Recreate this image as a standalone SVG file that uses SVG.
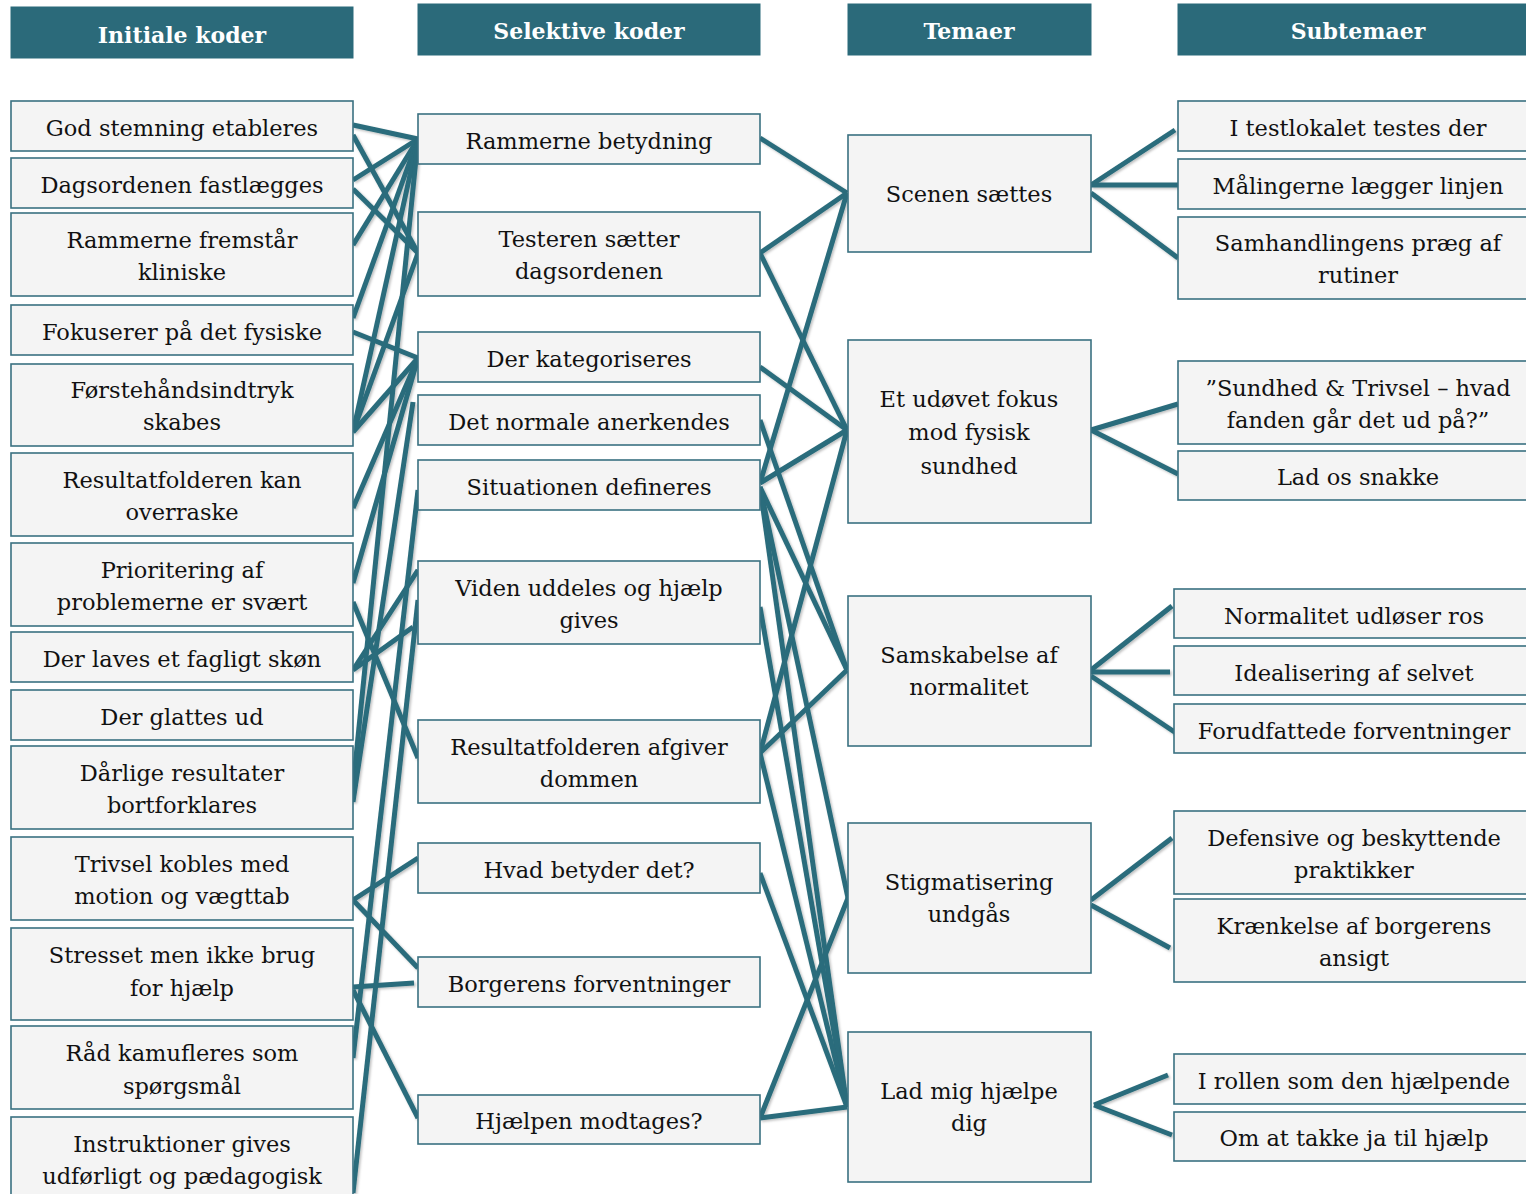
<svg xmlns="http://www.w3.org/2000/svg" width="1526" height="1194" viewBox="0 0 1526 1194">
<defs>
<filter id="sh" x="-5%" y="-5%" width="110%" height="110%">
<feDropShadow dx="1.5" dy="1.5" stdDeviation="1.2" flood-color="#000" flood-opacity="0.25"/>
</filter>
<style>
.hd rect{fill:#2b6a7a;stroke:#2b6a7a;stroke-width:1}
.hd text{fill:#fff;font-family:"DejaVu Serif","Liberation Serif",serif;font-weight:bold;font-size:22px;text-anchor:middle}
.n rect{fill:#f4f4f4;stroke:#3a7181;stroke-width:1.6}
.n text{fill:#111;font-family:"DejaVu Serif","Liberation Serif",serif;font-size:22.5px;text-anchor:middle}
#edges line{stroke:#2b6c7b;stroke-width:5}
</style>
</defs>
<rect width="1526" height="1194" fill="#fff"/>

<g id="h1" class="hd"><rect x="11" y="7" width="342" height="51"/><text x="182" y="43">Initiale koder</text></g>
<g id="h2" class="hd"><rect x="418" y="4" width="342" height="51"/><text x="589" y="39">Selektive koder</text></g>
<g id="h3" class="hd"><rect x="848" y="4" width="243" height="51"/><text x="969" y="39">Temaer</text></g>
<g id="h4" class="hd"><rect x="1178" y="4" width="350" height="51"/><text x="1358" y="39">Subtemaer</text></g>

<g id="edges" filter="url(#sh)">
<line x1="353" y1="125" x2="418" y2="139"/>
<line x1="353" y1="135" x2="418" y2="253"/>
<line x1="353" y1="180" x2="418" y2="139"/>
<line x1="353" y1="189" x2="418" y2="253"/>
<line x1="353" y1="245" x2="418" y2="139"/>
<line x1="353" y1="318" x2="418" y2="139"/>
<line x1="353" y1="332" x2="418" y2="358"/>
<line x1="353" y1="432" x2="418" y2="139"/>
<line x1="353" y1="432" x2="418" y2="253"/>
<line x1="353" y1="432" x2="418" y2="358"/>
<line x1="353" y1="508" x2="418" y2="358"/>
<line x1="353" y1="583" x2="418" y2="358"/>
<line x1="353" y1="602" x2="418" y2="758"/>
<line x1="353" y1="670" x2="418" y2="570"/>
<line x1="353" y1="670" x2="413" y2="627"/>
<line x1="353" y1="787" x2="418" y2="139"/>
<line x1="353" y1="802" x2="413" y2="402"/>
<line x1="353" y1="900" x2="418" y2="858"/>
<line x1="353" y1="900" x2="418" y2="968"/>
<line x1="353" y1="987" x2="414" y2="983"/>
<line x1="353" y1="990" x2="418" y2="1118"/>
<line x1="353" y1="1058" x2="418" y2="490"/>
<line x1="353" y1="1193" x2="418" y2="600"/>

<line x1="760" y1="138" x2="847" y2="193"/>
<line x1="760" y1="253" x2="847" y2="193"/>
<line x1="760" y1="253" x2="847" y2="430"/>
<line x1="760" y1="367" x2="847" y2="430"/>
<line x1="760" y1="483" x2="847" y2="193"/>
<line x1="760" y1="483" x2="847" y2="430"/>
<line x1="760" y1="420" x2="847" y2="670"/>
<line x1="760" y1="487" x2="847" y2="670"/>
<line x1="760" y1="487" x2="848" y2="898"/>
<line x1="760" y1="487" x2="847" y2="1107"/>
<line x1="847" y1="430" x2="760" y2="753"/>
<line x1="847" y1="670" x2="760" y2="753"/>
<line x1="760" y1="607" x2="847" y2="1107"/>
<line x1="760" y1="753" x2="847" y2="1107"/>
<line x1="760" y1="873" x2="847" y2="1107"/>
<line x1="760" y1="1118" x2="847" y2="1107"/>
<line x1="760" y1="1118" x2="848" y2="898"/>

<line x1="1091" y1="185" x2="1175" y2="130"/>
<line x1="1091" y1="185" x2="1178" y2="185"/>
<line x1="1091" y1="193" x2="1178" y2="258"/>
<line x1="1091" y1="430" x2="1178" y2="404"/>
<line x1="1091" y1="430" x2="1178" y2="474"/>
<line x1="1091" y1="670" x2="1172" y2="606"/>
<line x1="1091" y1="672" x2="1170" y2="672"/>
<line x1="1091" y1="676" x2="1176" y2="733"/>
<line x1="1091" y1="900" x2="1172" y2="838"/>
<line x1="1091" y1="905" x2="1170" y2="948"/>
<line x1="1094" y1="1105" x2="1168" y2="1075"/>
<line x1="1094" y1="1105" x2="1172" y2="1135"/>
</g>

<g id="a1" class="n"><rect x="11" y="101" width="342" height="50"/><text x="182" y="136">God stemning etableres</text></g>
<g id="a2" class="n"><rect x="11" y="158" width="342" height="50"/><text x="182" y="193">Dagsordenen fastlægges</text></g>
<g id="a3" class="n"><rect x="11" y="213" width="342" height="83"/><text x="182" y="248">Rammerne fremstår</text><text x="182" y="280">kliniske</text></g>
<g id="a4" class="n"><rect x="11" y="305" width="342" height="50"/><text x="182" y="340">Fokuserer på det fysiske</text></g>
<g id="a5" class="n"><rect x="11" y="364" width="342" height="82"/><text x="182" y="398">Førstehåndsindtryk</text><text x="182" y="430">skabes</text></g>
<g id="a6" class="n"><rect x="11" y="453" width="342" height="83"/><text x="182" y="488">Resultatfolderen kan</text><text x="182" y="520">overraske</text></g>
<g id="a7" class="n"><rect x="11" y="543" width="342" height="83"/><text x="182" y="578">Prioritering af</text><text x="182" y="610">problemerne er svært</text></g>
<g id="a8" class="n"><rect x="11" y="632" width="342" height="50"/><text x="182" y="667">Der laves et fagligt skøn</text></g>
<g id="a9" class="n"><rect x="11" y="690" width="342" height="50"/><text x="182" y="725">Der glattes ud</text></g>
<g id="a10" class="n"><rect x="11" y="746" width="342" height="83"/><text x="182" y="781">Dårlige resultater</text><text x="182" y="813">bortforklares</text></g>
<g id="a11" class="n"><rect x="11" y="837" width="342" height="83"/><text x="182" y="872">Trivsel kobles med</text><text x="182" y="904">motion og vægttab</text></g>
<g id="a12" class="n"><rect x="11" y="928" width="342" height="92"/><text x="182" y="963">Stresset men ikke brug</text><text x="182" y="996">for hjælp</text></g>
<g id="a13" class="n"><rect x="11" y="1026" width="342" height="83"/><text x="182" y="1061">Råd kamufleres som</text><text x="182" y="1094">spørgsmål</text></g>
<g id="a14" class="n"><rect x="11" y="1117" width="342" height="90"/><text x="182" y="1152">Instruktioner gives</text><text x="182" y="1184">udførligt og pædagogisk</text></g>

<g id="b1" class="n"><rect x="418" y="114" width="342" height="50"/><text x="589" y="149">Rammerne betydning</text></g>
<g id="b2" class="n"><rect x="418" y="212" width="342" height="84"/><text x="589" y="247">Testeren sætter</text><text x="589" y="279">dagsordenen</text></g>
<g id="b3" class="n"><rect x="418" y="332" width="342" height="50"/><text x="589" y="367">Der kategoriseres</text></g>
<g id="b4" class="n"><rect x="418" y="395" width="342" height="50"/><text x="589" y="430">Det normale anerkendes</text></g>
<g id="b5" class="n"><rect x="418" y="460" width="342" height="50"/><text x="589" y="495">Situationen defineres</text></g>
<g id="b6" class="n"><rect x="418" y="561" width="342" height="83"/><text x="589" y="596">Viden uddeles og hjælp</text><text x="589" y="628">gives</text></g>
<g id="b7" class="n"><rect x="418" y="720" width="342" height="83"/><text x="589" y="755">Resultatfolderen afgiver</text><text x="589" y="787">dommen</text></g>
<g id="b8" class="n"><rect x="418" y="843" width="342" height="50"/><text x="589" y="878">Hvad betyder det?</text></g>
<g id="b9" class="n"><rect x="418" y="957" width="342" height="50"/><text x="589" y="992">Borgerens forventninger</text></g>
<g id="b10" class="n"><rect x="418" y="1095" width="342" height="49"/><text x="589" y="1129">Hjælpen modtages?</text></g>

<g id="c1" class="n"><rect x="848" y="135" width="243" height="117"/><text x="969" y="202">Scenen sættes</text></g>
<g id="c2" class="n"><rect x="848" y="340" width="243" height="183"/><text x="969" y="407">Et udøvet fokus</text><text x="969" y="440">mod fysisk</text><text x="969" y="474">sundhed</text></g>
<g id="c3" class="n"><rect x="848" y="596" width="243" height="150"/><text x="969" y="663">Samskabelse af</text><text x="969" y="695">normalitet</text></g>
<g id="c4" class="n"><rect x="848" y="823" width="243" height="150"/><text x="969" y="890">Stigmatisering</text><text x="969" y="922">undgås</text></g>
<g id="c5" class="n"><rect x="848" y="1032" width="243" height="150"/><text x="969" y="1099">Lad mig hjælpe</text><text x="969" y="1131">dig</text></g>

<g id="d1" class="n"><rect x="1178" y="101" width="350" height="50"/><text x="1358" y="136">I testlokalet testes der</text></g>
<g id="d2" class="n"><rect x="1178" y="159" width="350" height="50"/><text x="1358" y="194">Målingerne lægger linjen</text></g>
<g id="d3" class="n"><rect x="1178" y="217" width="350" height="82"/><text x="1358" y="251">Samhandlingens præg af</text><text x="1358" y="283">rutiner</text></g>
<g id="d4" class="n"><rect x="1178" y="361" width="350" height="83"/><text x="1358" y="396">”Sundhed &amp; Trivsel – hvad</text><text x="1358" y="428">fanden går det ud på?”</text></g>
<g id="d5" class="n"><rect x="1178" y="451" width="350" height="49"/><text x="1358" y="485">Lad os snakke</text></g>
<g id="d6" class="n"><rect x="1174" y="589" width="354" height="49"/><text x="1354" y="624">Normalitet udløser ros</text></g>
<g id="d7" class="n"><rect x="1174" y="646" width="354" height="49"/><text x="1354" y="681">Idealisering af selvet</text></g>
<g id="d8" class="n"><rect x="1174" y="704" width="354" height="49"/><text x="1354" y="739">Forudfattede forventninger</text></g>
<g id="d9" class="n"><rect x="1174" y="811" width="354" height="83"/><text x="1354" y="846">Defensive og beskyttende</text><text x="1354" y="878">praktikker</text></g>
<g id="d10" class="n"><rect x="1174" y="899" width="354" height="83"/><text x="1354" y="934">Krænkelse af borgerens</text><text x="1354" y="966">ansigt</text></g>
<g id="d11" class="n"><rect x="1174" y="1054" width="354" height="50"/><text x="1354" y="1089">I rollen som den hjælpende</text></g>
<g id="d12" class="n"><rect x="1174" y="1112" width="354" height="49"/><text x="1354" y="1146">Om at takke ja til hjælp</text></g>
</svg>
